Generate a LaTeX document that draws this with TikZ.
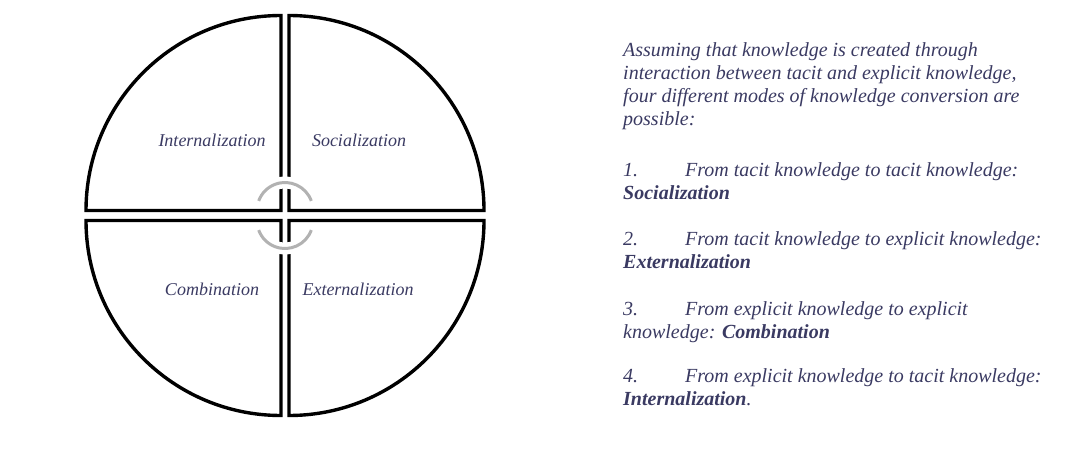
\documentclass[tikz,border=0pt]{standalone}
\usepackage{fontspec}
\setmainfont{Liberation Serif}
\definecolor{inkblue}{RGB}{58,58,98}
\definecolor{linkgray}{RGB}{178,178,178}
\newcommand{\modeno}[1]{\makebox[62pt][l]{#1}}
\begin{document}
\begin{tikzpicture}[x=1pt,y=1pt,
  quadrant/.style={draw=black,line width=3.4pt},
  link/.style={draw=linkgray,line width=3pt,preaction={draw=white,line width=12pt}},
  label/.style={inkblue,font=\fontsize{18}{21}\selectfont\itshape,inner sep=0pt},
  body/.style={inkblue,font=\fontsize{20}{23}\selectfont\itshape,align=left,inner sep=0pt}]
\useasboundingbox (0,0) rectangle (1075,-457);

% four quarters of the circle
\coordinate (hub) at (285,-215.5);
\draw[quadrant] (281,-210.5) -- (86,-210.5) arc[start angle=180,end angle=90,radius=195] -- cycle;
\draw[quadrant] (289,-210.5) -- (289,-15.5) arc[start angle=90,end angle=0,radius=195] -- cycle;
\draw[quadrant] (281,-220.5) -- (281,-415.5) arc[start angle=270,end angle=180,radius=195] -- cycle;
\draw[quadrant] (289,-220.5) -- (484,-220.5) arc[start angle=0,end angle=-90,radius=195] -- cycle;

% the two arcs round the centre
\draw[link] ([shift={(20:28)}]hub) ++(0,5) arc[start angle=20,end angle=160,radius=28];
\draw[link] ([shift={(-20:28)}]hub) ++(0,-5) arc[start angle=-20,end angle=-160,radius=28];

\draw (212,-147) node[label,anchor=base] (intern) {Internalization};
\draw (359,-147) node[label,anchor=base] (social) {Socialization};
\draw (212,-295) node[label,anchor=base] (combin) {Combination};
\draw (358,-295) node[label,anchor=base] (extern) {Externalization};

% text on the right (anchored at the last line)
\draw (623,-126) node[body,anchor=base west] (intro) {Assuming that knowledge is created through\\
  interaction between tacit and explicit knowledge,\\
  four different modes of knowledge conversion are\\
  possible:};
\draw (623,-199) node[body,anchor=base west] (modeone) {\modeno{1.}From tacit knowledge to tacit knowledge:\\
  \textbf{Socialization}};
\draw (623,-268) node[body,anchor=base west] (modetwo) {\modeno{2.}From tacit knowledge to explicit knowledge:\\
  \textbf{Externalization}};
\draw (623,-338) node[body,anchor=base west] (modethree) {\modeno{3.}From explicit knowledge to explicit\\
  knowledge: \textbf{Combination}};
\draw (623,-405) node[body,anchor=base west] (modefour) {\modeno{4.}From explicit knowledge to tacit knowledge:\\
  \textbf{Internalization}.};
\end{tikzpicture}
\end{document}
